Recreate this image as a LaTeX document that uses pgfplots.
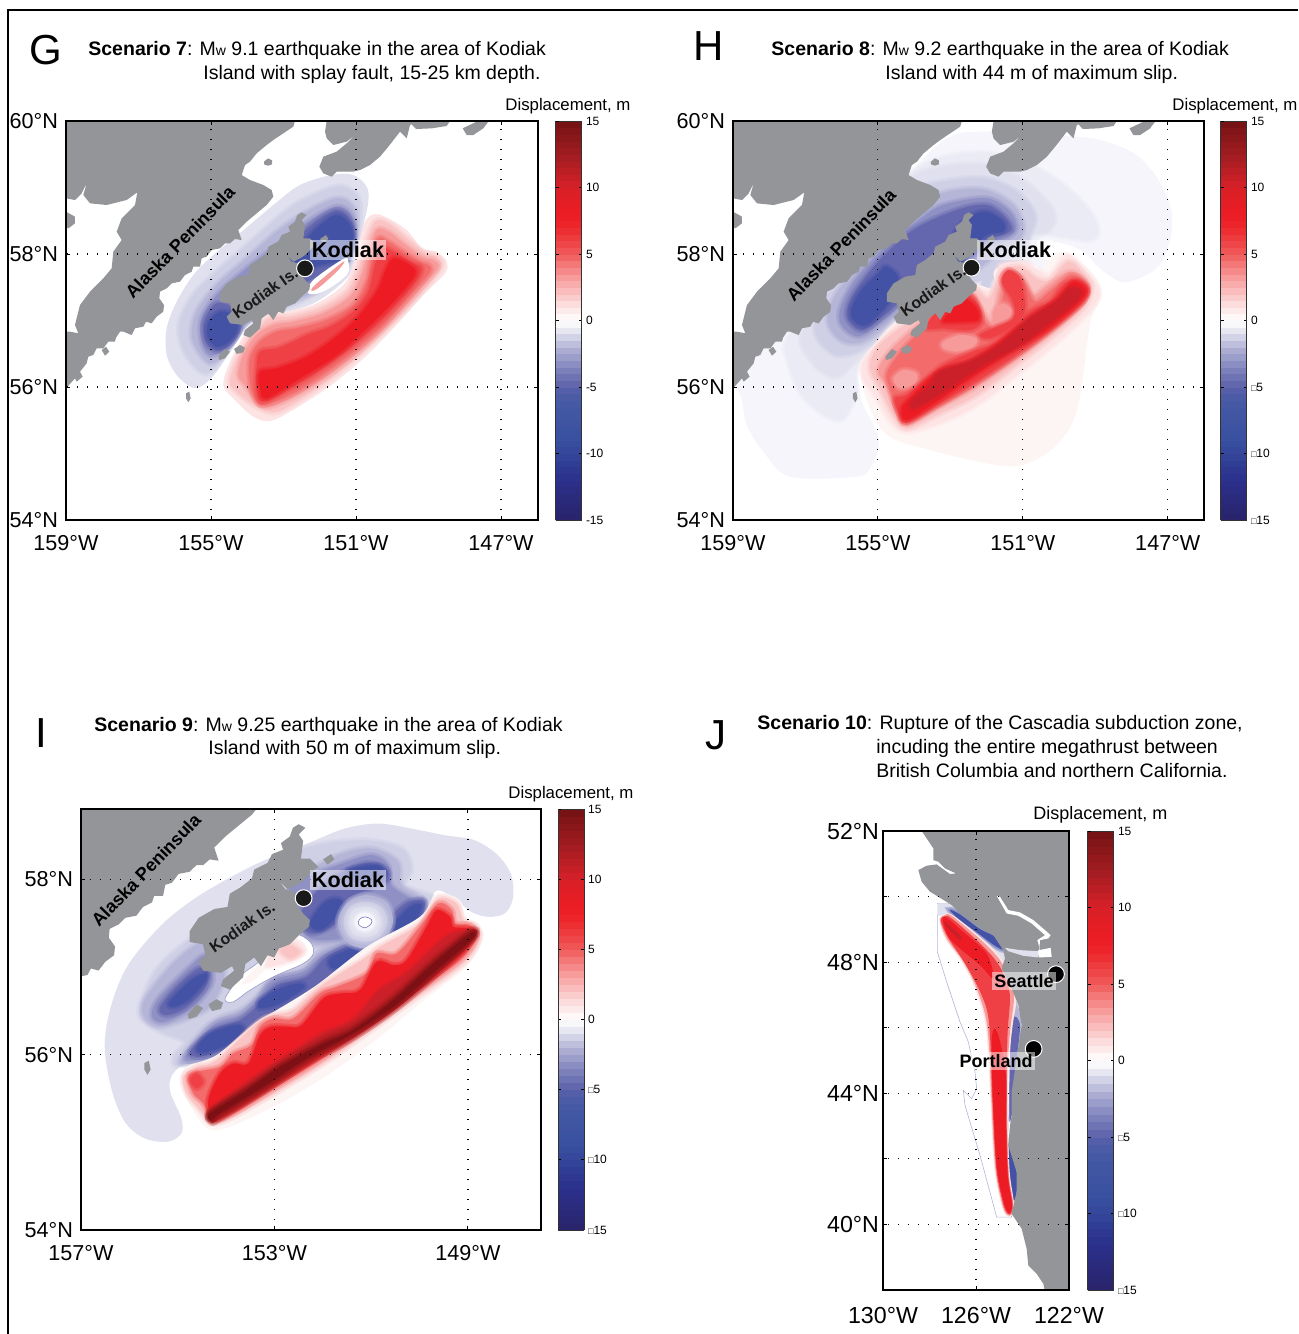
\documentclass[border=0pt]{standalone}
\usepackage{pgfplots}
\pgfplotsset{compat=1.18}
\usepackage{fontspec}
\setmainfont{Liberation Sans}
\definecolor{land}{HTML}{939598}
\definecolor{b05}{HTML}{F5F5FB}\definecolor{b07}{HTML}{EBEBF5}\definecolor{b1}{HTML}{E0E0EF}
\definecolor{b2}{HTML}{CFCFE6}\definecolor{b3}{HTML}{B5B5D8}\definecolor{b4}{HTML}{8F90C4}
\definecolor{b5}{HTML}{6467AE}\definecolor{b6}{HTML}{4452A5}
\definecolor{r05}{HTML}{FDF5F4}\definecolor{r1}{HTML}{FDE3E3}\definecolor{r2}{HTML}{FBC4C4}
\definecolor{r3}{HTML}{F79A9A}\definecolor{r4}{HTML}{F36B6B}\definecolor{r5}{HTML}{EF4045}
\definecolor{r6}{HTML}{ED1C24}\definecolor{r7}{HTML}{CB2029}\definecolor{r8}{HTML}{B01C20}\definecolor{r9}{HTML}{7D1014}
% soft contour: two translucent strokes under the fill blur the band edge
\newcommand\poly[2]{%
\addplot[draw=#1,opacity=.3,line width=3.2pt,smooth cycle,tension=0.55] coordinates {#2};
\addplot[draw=#1,opacity=.35,line width=1.6pt,smooth cycle,tension=0.55] coordinates {#2};
\addplot[fill=#1,draw=none,smooth cycle,tension=0.55] coordinates {#2};}
\newcommand\hpoly[2]{\addplot[fill=#1,draw=none,smooth cycle,tension=0.55] coordinates {#2};}
\newcommand\lnd[2][land]{\addplot[gframe,fill=#1,draw=none] coordinates {#2} -- cycle;}
\pgfplotsset{
 colormap={disp}{rgb255(0)=(41,35,105) rgb255(3)=(43,48,140) rgb255(6)=(56,80,160) rgb255(9)=(70,90,165)
  rgb255(10)=(90,95,170) rgb255(11.5)=(130,135,190) rgb255(13)=(180,180,215) rgb255(14)=(222,222,238)
  rgb255(14.8)=(250,250,252) rgb255(15)=(255,255,255) rgb255(16)=(253,228,228) rgb255(17.5)=(250,180,180)
  rgb255(19)=(245,130,130) rgb255(20)=(240,90,90) rgb255(22)=(237,40,45) rgb255(23)=(237,28,36)
  rgb255(25)=(215,32,40) rgb255(27)=(170,30,35) rgb255(30)=(115,18,20)},
 gframe/.style={x filter/.expression={159-(60+x/3-66)/36.25},y filter/.expression={60-(115+y/3-121)/66.5}},
 hframe/.style={x filter/.expression={159-(730+x/3-733)/36.25},y filter/.expression={60-(115+y/3-121)/66.5}},
 iframe/.style={x filter/.expression={157-(78+x/3-81)/48.375},y filter/.expression={58-(805+y/3-879)/87.75}},
 jframe/.style={x filter/.expression={130-(880+x/3-883)/23.25},y filter/.expression={52-(825+y/3-831)/32.75}},
 mapaxis/.style={scale only axis,axis on top,x dir=reverse,anchor=south west,grid=major,
  grid style={black,line width=.55pt,dash pattern=on .7pt off 4.3pt},
  tick align=inside,major tick length=2pt,tick style={black,line width=.5pt},
  axis line style={line width=.8pt,black},
  xticklabel style={font=\fontsize{10.8}{12}\selectfont,yshift=-4pt},
  yticklabel style={font=\fontsize{10.8}{12}\selectfont,xshift=-.5pt},
  point meta min=-15,point meta max=15,colormap name=disp,
  colorbar sampled,colorbar style={samples=61}},
 cbar/.style={colorbar style={at={(#1,1)},anchor=north west,width=13pt,
  ytick={-15,-10,-5,0,5,10,15},major tick length=1.5pt,tick align=inside,
  yticklabel pos=right,axis line style={line width=.5pt,black!80},
  yticklabel style={font=\fontsize{6}{7}\selectfont,xshift=-1.5pt}}},
 negplain/.style={colorbar style={yticklabels={-15,-10,-5,0,5,10,15}}},
 negbox/.style={colorbar style={yticklabels={{\fontsize{4.5}{5}\selectfont □}15,{\fontsize{4.5}{5}\selectfont □}10,{\fontsize{4.5}{5}\selectfont □}5,0,5,10,15}}},
}
% Land shared by the three Kodiak panels
\newcommand\alaska{%
\lnd{(18,18)(705,18)(700,35)(670,55)(640,75)(620,90)(590,115)(570,140)(555,150)(545,180)(570,195)(610,210)(635,225)(640,245)(620,270)(590,295)(560,320)(535,345)(545,375)(525,372)(510,385)(495,385)(480,400)(455,405)(440,425)(425,430)(420,455)(400,455)(395,470)(375,480)(360,500)(335,505)(320,520)(300,530)(298,550)(312,570)(310,590)(290,605)(275,625)(258,620)(250,635)(225,640)(215,660)(190,650)(180,650)(168,668)(165,680)(145,680)(130,700)(110,700)(100,720)(85,725)(80,745)(60,770)(68,785)(50,800)(45,790)(18,820)(18,650)(30,650)(55,655)(45,630)(50,610)(60,570)(90,530)(130,490)(155,460)(160,410)(185,375)(170,350)(185,310)(225,270)(232,232)(200,255)(140,270)(90,265)(70,240)(80,205)(65,235)(45,255)(18,250)}
\lnd{(18,290)(45,305)(45,325)(25,340)(18,335)}
\lnd{(125,705)(138,695)(148,710)(135,722)}
\lnd{(800,18)(1170,18)(1160,33)(1115,40)(1068,42)(1055,28)(1050,30)(1040,70)(1020,50)(985,95)(960,125)(930,150)(900,165)(880,170)(830,170)(815,185)(790,175)(778,155)(790,125)(830,110)(860,85)(885,60)(860,80)(820,90)(800,70)(795,50)}
\lnd{(1220,60)(1208,40)(1250,20)(1285,20)(1270,40)(1240,60)}
\lnd{(612,140)(624,130)(636,136)(636,148)(624,152)(612,148)}
\lnd{(725,292)(712,300)(705,320)(685,335)(690,350)(665,360)(655,380)(625,395)(620,415)(595,435)(570,450)(565,480)(535,485)(500,505)(480,535)(480,560)(510,565)(515,590)(500,605)(510,625)(550,630)(575,615)(580,625)(555,645)(550,660)(570,668)(600,640)(605,610)(625,595)(640,615)(655,590)(670,595)(680,575)(705,565)(730,540)(748,525)(750,510)(735,495)(720,475)(715,445)(695,440)(680,420)(700,440)(720,430)(735,420)(760,395)(770,390)(750,370)(730,370)(735,330)(725,315)(740,300)}
\lnd{(780,372)(798,360)(805,372)(790,384)}
\lnd{(522,702)(540,690)(555,698)(550,712)(530,717)}
\lnd{(475,725)(495,702)(510,710)(495,730)(478,735)}
\lnd{(378,835)(388,830)(392,850)(385,862)(378,850)}
}
\begin{document}
\begin{tikzpicture}
\useasboundingbox (0,0) rectangle (649pt,-667pt);
\draw[line width=.8pt,black] (4pt,-667pt) -- (4pt,-5pt) -- (649pt,-5pt);
%%%%%%%%%%%%%% G
\begin{axis}[mapaxis,gframe,cbar=1.038,negplain,at={(33pt,-260pt)},width=236pt,height=199.5pt,
 xmin=145.98,xmax=159,ymin=54,ymax=60,xtick={159,155,151,147},ytick={54,56,58,60},
 xticklabels={159°W,155°W,151°W,147°W},yticklabels={54°N,56°N,58°N,60°N}]
\hpoly{b1}{(815,180)(880,180)(920,215)(925,260)(910,330)(885,430)(860,490)(770,560)(680,590)(620,590)(555,640)(520,690)(470,770)(430,810)(395,817)(350,780)(320,720)(320,640)(350,560)(400,480)(460,420)(545,350)(640,270)(720,210)}
\poly{b2}{(830,215)(885,235)(900,280)(890,380)(870,440)(800,510)(720,560)(640,590)(560,630)(520,680)(480,740)(440,775)(400,750)(365,690)(360,620)(400,540)(470,470)(550,400)(640,320)(720,260)}
\poly{b3}{(830,250)(875,270)(890,320)(880,400)(850,470)(790,520)(720,550)(630,590)(560,620)(520,680)(490,720)(450,745)(415,710)(395,660)(410,590)(470,510)(560,430)(650,350)(740,290)}
\poly{b4}{(830,275)(870,295)(885,350)(870,420)(830,470)(760,510)(700,540)(640,585)(560,620)(525,670)(490,705)(450,720)(425,680)(425,610)(470,540)(560,460)(680,370)(760,310)}
\poly{b5}{(830,285)(872,315)(882,380)(855,445)(790,475)(720,505)(690,470)(690,400)(760,325)}
\poly{b5}{(470,565)(530,585)(540,640)(510,690)(470,708)(436,680)(432,620)}
\poly{b6}{(830,300)(870,330)(878,380)(855,430)(780,450)(720,470)(690,470)(700,420)(770,340)}
\poly{b6}{(480,590)(530,605)(530,650)(500,685)(470,695)(445,670)(445,625)}
\hpoly{white}{(745,535)(760,495)(850,432)(865,440)(860,480)(790,530)}
\hpoly{r3}{(755,528)(765,510)(850,440)(835,465)(780,515)}
\hpoly{r1}{(940,298)(975,305)(1040,345)(1085,400)(1130,410)(1160,440)(1155,475)(1090,540)(1000,640)(900,740)(800,820)(690,890)(630,918)(580,905)(520,850)(490,810)(510,740)(560,650)(620,600)(680,590)(770,565)(850,510)(880,450)(900,370)(915,320)}
\poly{r2}{(945,320)(985,325)(1040,370)(1090,410)(1130,425)(1145,450)(1120,490)(1040,580)(950,670)(850,760)(740,840)(650,890)(590,875)(530,830)(510,800)(530,735)(575,660)(630,610)(690,605)(780,580)(860,530)(895,460)(915,390)}
\poly{r3}{(950,345)(985,350)(1030,385)(1085,425)(1120,435)(1135,455)(1100,500)(1010,600)(920,690)(820,770)(720,835)(630,875)(590,860)(555,810)(535,780)(550,720)(590,660)(640,630)(700,620)(790,595)(870,545)(905,480)(925,410)}
\poly{r4}{(955,370)(985,380)(1030,410)(1080,440)(1105,450)(1110,470)(1060,530)(970,630)(880,710)(780,785)(690,840)(610,870)(585,850)(570,800)(570,730)(600,680)(650,650)(710,640)(800,615)(880,570)(920,500)(935,430)}
\poly{r5}{(965,400)(1000,410)(1050,440)(1085,460)(1060,510)(970,610)(880,690)(780,765)(690,820)(610,860)(590,830)(590,760)(600,710)(650,700)(700,680)(740,660)(810,635)(880,590)(925,530)(945,450)}
\poly{r6}{(1000,430)(1050,450)(1065,480)(1000,560)(920,640)(830,720)(720,790)(620,850)(600,820)(600,770)(650,760)(730,730)(810,680)(890,610)(950,530)(975,470)}
\alaska
\addplot[only marks,mark=*,mark size=4.2pt,mark options={fill=black!90,draw=white,line width=.5pt}] coordinates {(735,460)};
\end{axis}
%%%%%%%%%%%%%% H
\begin{axis}[mapaxis,hframe,cbar=1.036,negbox,at={(366.5pt,-260pt)},width=235.5pt,height=199.5pt,
 xmin=146,xmax=159,ymin=54,ymax=60,xtick={159,155,151,147},ytick={54,56,58,60},
 xticklabels={159°W,155°W,151°W,147°W},yticklabels={54°N,56°N,58°N,60°N}]
\hpoly{b05}{(530,180)(650,70)(760,50)(1040,65)(1130,80)(1220,120)(1290,200)(1325,290)(1320,380)(1280,460)(1200,500)(1160,495)(1110,460)(1060,410)(1000,385)(950,380)(920,380)(950,450)(930,465)(915,450)(850,450)(790,490)(780,525)(755,520)(740,500)(500,610)(440,670)(395,720)(385,800)(400,870)(440,950)(445,1000)(420,1060)(380,1085)(180,1085)(100,1010)(50,930)(35,850)(20,800)(100,700)(200,600)(400,300)}
\poly{b07}{(540,175)(650,125)(780,115)(900,150)(1000,210)(1080,290)(1105,350)(1080,375)(1000,365)(930,360)(905,420)(880,450)(790,490)(780,525)(755,520)(740,500)(500,610)(440,670)(395,730)(375,780)(380,820)(360,880)(330,915)(270,890)(210,830)(175,740)(170,680)(250,550)(400,300)}
\poly{b1}{(540,195)(650,155)(760,150)(870,190)(950,260)(975,310)(950,350)(900,360)(880,420)(790,490)(780,525)(755,520)(740,500)(500,610)(440,680)(385,730)(320,785)(265,760)(220,700)(215,660)(270,570)(400,400)}
\poly{b2}{(560,225)(640,200)(760,190)(860,230)(915,300)(900,360)(880,420)(790,490)(780,525)(750,520)(740,500)(500,610)(440,670)(380,710)(320,720)(270,680)(255,630)(290,540)(400,420)(500,320)}
\poly{b3}{(600,250)(680,225)(770,225)(850,270)(880,330)(870,370)(820,400)(760,450)(700,490)(560,520)(480,620)(400,680)(340,680)(300,640)(295,590)(330,520)(420,420)(520,320)}
\poly{b4}{(640,270)(770,250)(840,290)(860,340)(830,370)(770,390)(700,450)(600,490)(480,600)(400,660)(360,655)(330,620)(335,570)(380,490)(480,380)(560,320)}
\poly{b5}{(680,285)(770,270)(825,305)(845,345)(800,365)(730,395)(680,445)(560,515)(470,595)(400,645)(362,625)(350,590)(375,530)(450,435)(550,345)}
\poly{b6}{(720,305)(770,290)(820,320)(820,350)(770,360)(715,415)(690,445)(645,420)(680,345)}
\poly{b6}{(470,455)(505,490)(475,565)(410,630)(370,615)(365,580)(395,525)(445,475)}
\hpoly{r05}{(950,430)(1000,410)(1050,440)(1100,490)(1115,540)(1085,610)(1070,700)(1055,820)(1030,920)(970,1000)(880,1050)(800,1050)(700,1030)(580,1000)(510,980)(460,950)(420,880)(395,800)(395,740)(440,680)(500,620)(600,560)(700,500)(790,520)(800,460)(930,465)}
\poly{r1}{(1010,420)(1060,460)(1100,510)(1105,550)(1060,610)(960,700)(860,780)(740,870)(640,920)(540,950)(490,930)(440,850)(400,790)(400,740)(445,685)(505,625)(610,570)(720,510)(770,530)(800,500)(810,450)(880,440)(930,470)(960,480)}
\poly{r2}{(1015,440)(1060,475)(1085,515)(1060,580)(960,670)(860,750)(740,840)(620,900)(530,940)(490,900)(450,820)(420,760)(440,700)(510,640)(620,580)(720,520)(770,550)(790,530)(815,470)(870,455)(920,490)(960,495)}
\poly{r3}{(1020,470)(1070,505)(1060,560)(960,650)(860,730)(740,815)(620,880)(530,925)(500,890)(470,810)(445,770)(470,720)(530,660)(610,600)(720,540)(760,590)(790,620)(815,510)(870,480)(910,540)(950,515)}
\poly{r4}{(1025,480)(1070,510)(1060,560)(960,650)(850,730)(730,810)(620,875)(530,925)(505,890)(480,820)(470,780)(490,740)(540,680)(610,620)(720,540)(750,600)(800,640)(835,480)(880,500)(915,560)(960,530)}
\poly{r3}{(640,680)(690,660)(740,670)(730,695)(680,710)(640,700)}
\poly{r3}{(490,790)(520,765)(560,775)(555,805)(510,820)}
\poly{r3}{(790,590)(820,565)(850,590)(830,620)(795,625)}
\poly{r5}{(1040,495)(1075,520)(1055,565)(960,645)(850,725)(730,805)(620,870)(530,920)(505,890)(495,850)(530,840)(590,790)(640,750)(730,710)(800,680)(900,590)(960,560)(1000,510)}
\poly{r5}{(700,530)(745,570)(755,620)(720,645)(640,640)(590,640)(610,600)(660,560)}
\poly{r5}{(815,500)(835,465)(870,490)(885,560)(880,600)(840,640)(780,670)(750,660)(790,640)(850,610)(850,560)}
\poly{r6}{(1030,500)(1070,525)(1045,565)(950,645)(850,705)(720,790)(620,860)(530,915)(515,880)(540,850)(600,790)(650,760)(720,740)(800,690)(900,610)(980,555)}
\poly{r6}{(700,550)(740,580)(745,615)(700,620)(640,620)(660,590)}
\poly{r7}{(1020,520)(1055,530)(1030,565)(950,630)(870,690)(760,750)(640,830)(590,860)(550,880)(545,860)(600,810)(630,770)(720,740)(810,690)(900,610)(980,560)}
\alaska
\addplot[only marks,mark=*,mark size=4.2pt,mark options={fill=black!90,draw=white,line width=.5pt}] coordinates {(725,458)};
\end{axis}
%%%%%%%%%%%%%% I
\begin{axis}[mapaxis,iframe,cbar=1.037,negbox,at={(40.5pt,-615pt)},width=230pt,height=210.5pt,
 xmin=147.49,xmax=157,ymin=54,ymax=58.8,xtick={157,153,149},ytick={54,56,58},
 xticklabels={157°W,153°W,149°W},yticklabels={54°N,56°N,58°N}]
\hpoly{b1}{(700,110)(800,70)(900,55)(1000,70)(1100,90)(1190,105)(1260,150)(1300,210)(1305,280)(1280,325)(1230,335)(1180,320)(1130,280)(1080,255)(1060,280)(1000,390)(900,430)(740,540)(540,650)(420,730)(300,790)(275,850)(310,940)(310,985)(270,1010)(200,1000)(140,950)(100,850)(80,720)(100,600)(150,480)(250,360)(350,280)(460,215)(560,165)}
\poly{b2}{(680,130)(850,105)(970,130)(1000,190)(980,240)(1040,265)(1060,285)(1000,390)(900,430)(740,530)(540,640)(420,720)(300,780)(290,750)(320,710)(250,680)(190,640)(190,590)(240,490)(340,400)(500,300)(600,200)}
\poly{b3}{(400,420)(440,500)(400,600)(330,640)(240,665)(195,630)(205,575)(290,470)(370,410)}
\poly{b3}{(306,765)(396,655)(486,615)(536,575)(586,515)(676,490)(731,435)(836,390)(906,415)(866,465)(736,535)(606,615)(536,655)(416,745)(346,775)}
\poly{b3}{(680,210)(780,150)(880,130)(960,170)(970,240)(1030,280)(1040,340)(990,390)(900,415)(820,410)(720,420)(650,390)(620,300)}
\poly{b4}{(380,450)(400,480)(400,540)(340,610)(260,650)(225,640)(225,610)(250,570)(330,490)}
\poly{b4}{(321,755)(406,660)(486,630)(536,585)(586,525)(676,500)(736,450)(836,405)(886,425)(856,475)(716,545)(606,620)(526,655)(426,745)(356,765)}
\poly{b4}{(640,240)(780,180)(880,150)(930,180)(940,240)(1000,280)(1040,285)(1025,355)(975,395)(920,400)(820,400)(700,400)(650,330)}
\poly{b5}{(360,490)(390,500)(380,550)(320,610)(265,630)(245,610)(290,550)}
\poly{b5}{(336,740)(406,675)(486,645)(546,595)(596,540)(686,515)(746,455)(836,415)(876,430)(846,475)(706,555)(626,605)(526,655)(436,730)(366,755)}
\poly{b5}{(690,290)(760,220)(860,175)(925,190)(930,225)(880,250)(810,280)(790,340)(750,370)(700,385)(660,350)}
\poly{b5}{(925,385)(945,330)(990,290)(1040,290)(1020,350)(965,390)}
\poly{b6}{(275,590)(340,525)(385,505)(380,530)(330,585)(285,605)}
\poly{b6}{(356,730)(396,685)(476,660)(496,675)(446,720)(376,743)}
\poly{b6}{(546,585)(606,550)(666,535)(676,550)(606,595)(546,610)}
\poly{b6}{(756,460)(836,425)(866,435)(836,465)(766,490)}
\poly{b6}{(696,355)(736,295)(776,280)(796,300)(766,345)(726,375)}
\poly{b6}{(810,195)(900,180)(915,215)(830,225)}
\poly{b6}{(941,365)(996,305)(1031,300)(1011,345)(956,383)}
\poly{b3}{(861,270)(925,290)(945,350)(915,410)(861,430)(805,410)(780,350)(805,295)}
\poly{b2}{(861,290)(910,305)(928,350)(905,395)(861,410)(815,395)(797,350)(815,305)}
\poly{b1}{(861,305)(895,315)(910,350)(895,385)(861,395)(825,385)(812,350)(825,315)}
\poly{b05}{(861,322)(882,330)(893,350)(882,370)(861,378)(840,370)(829,350)(840,330)}
\hpoly{white}{(861,335)(880,343)(880,355)(861,368)(842,358)(844,343)}
\addplot[smooth cycle,tension=.55,draw=b5,line width=.25pt] coordinates {(861,335)(880,343)(880,355)(861,368)(842,358)(844,343)};
\hpoly{white}{(441,585)(456,555)(496,505)(546,465)(556,405)(646,385)(696,410)(706,445)(676,475)(586,515)(516,555)(466,590)}
\addplot[smooth cycle,tension=.55,draw=b4,line width=.25pt] coordinates {(441,585)(456,555)(496,505)(546,465)(556,405)(646,385)(696,410)(706,445)(676,475)(586,515)(516,555)(466,590)};
\hpoly{r05}{(491,535)(536,485)(561,475)(586,405)(656,400)(686,430)(666,460)(576,485)(521,530)}
\poly{r1}{(566,475)(596,405)(646,405)(681,435)(656,460)(586,483)}
\poly{r2}{(606,435)(636,420)(666,440)(636,460)}
\hpoly{r05}{(311,805)(336,780)(416,750)(536,650)(596,615)(716,540)(866,425)(1026,335)(1076,265)(1146,285)(1161,335)(1206,360)(1211,405)(1166,485)(1026,595)(906,695)(756,805)(606,895)(456,965)(396,973)(356,935)(321,865)}
\poly{r2}{(316,815)(356,785)(416,765)(536,655)(586,630)(646,615)(726,545)(866,455)(906,425)(1026,355)(1081,280)(1136,295)(1156,345)(1191,360)(1206,400)(1156,475)(1006,585)(866,685)(736,775)(606,855)(466,935)(401,955)(366,915)(326,865)}
\poly{r4}{(331,815)(356,800)(426,785)(466,745)(521,720)(546,665)(586,640)(646,640)(726,565)(776,545)(866,505)(896,445)(956,445)(1026,365)(1081,295)(1121,315)(1131,355)(1176,360)(1196,395)(1146,465)(996,575)(856,675)(726,765)(596,845)(466,925)(406,945)(376,895)(346,865)}
\poly{r5}{(336,825)(356,805)(376,830)(356,850)}
\poly{r6}{(391,885)(426,805)(466,775)(511,775)(546,690)(581,665)(631,665)(671,660)(736,580)(786,565)(846,555)(896,470)(946,480)(986,465)(1046,365)(1076,315)(1116,335)(1126,365)(1171,370)(1186,395)(1136,460)(986,570)(846,670)(716,760)(586,840)(456,920)(406,940)}
\poly{r7}{(396,925)(506,835)(606,765)(656,735)(736,685)(826,645)(906,555)(986,505)(1106,395)(1176,380)(1166,405)(986,565)(846,665)(716,755)(586,835)(456,915)}
\poly{r8}{(396,915)(506,845)(606,775)(736,700)(826,660)(946,570)(1066,460)(1176,375)(1192,395)(1096,490)(956,610)(816,705)(696,770)(566,855)(436,935)(401,952)}
\poly{r9}{(396,925)(506,855)(606,785)(736,715)(826,675)(946,585)(1066,475)(1176,385)(1184,400)(1086,485)(946,605)(806,695)(686,760)(556,845)(426,925)(401,945)}
\alaska
\addplot[only marks,mark=*,mark size=4.2pt,mark options={fill=black!90,draw=white,line width=.5pt}] coordinates {(677,279)};
\end{axis}
%%%%%%%%%%%%%% J
\begin{axis}[mapaxis,jframe,cbar=1.102,negbox,at={(441.5pt,-645pt)},width=93pt,height=229.5pt,
 xmin=122,xmax=130,ymin=38,ymax=52,xtick={130,126,122},ytick={40,42,44,46,48,50,52},
 xticklabel style={font=\fontsize{11.6}{13}\selectfont,yshift=-1pt},
 yticklabel style={font=\fontsize{11.6}{13}\selectfont,xshift=2pt},
 xticklabels={130°W,126°W,122°W},yticklabels={40°N,{},44°N,{},48°N,{},52°N}]
\addplot[fill=white,draw=b3,line width=.3pt] coordinates {(172,235)(205,235)(215,265)(172,270)(172,380)(200,470)(240,590)(265,650)(285,740)(290,790)(275,820)(250,795)(255,840)(300,990)(350,1175)(395,1175)(385,1100)(365,900)(350,700)(340,550)(280,440)(215,290)} -- cycle;
\addplot[fill=b1,draw=none] coordinates {(172,235)(205,235)(215,265)(190,272)(172,270)} -- cycle;
\hpoly{b1}{(205,240)(215,240)(240,262)(300,305)(345,335)(365,372)(430,378)(475,395)(430,395)(385,385)(375,425)(340,370)(290,320)(230,280)(205,265)}
\poly{b6}{(210,255)(240,268)(300,312)(345,335)(375,372)(350,365)(295,325)(240,285)}
\hpoly{b3}{(395,490)(410,530)(425,600)(412,700)(410,800)(400,860)(385,890)(385,960)(412,1040)(412,1100)(400,1130)(385,1065)(385,900)(390,700)(395,560)}
\hpoly{b5}{(398,580)(420,600)(408,720)(405,820)(395,870)(388,880)(390,700)}
\hpoly{b6}{(388,930)(410,1040)(410,1100)(400,1125)(388,1065)}
\hpoly{r1}{(178,285)(190,270)(215,268)(300,335)(360,395)(400,470)(410,520)(398,600)(388,700)(385,850)(385,950)(390,1050)(402,1135)(397,1170)(378,1170)(362,1130)(342,1020)(330,800)(325,700)(315,590)(285,490)(245,410)(195,340)}
\hpoly{r3}{(180,285)(195,270)(215,272)(300,342)(358,402)(392,470)(402,520)(390,620)(382,750)(382,900)(387,1050)(400,1135)(395,1167)(380,1167)(365,1130)(345,1020)(333,800)(328,680)(318,580)(290,490)(250,410)(200,340)}
\hpoly{r5}{(182,285)(195,273)(215,280)(295,350)(350,410)(380,470)(390,520)(383,620)(380,750)(380,900)(385,1050)(398,1135)(393,1164)(382,1164)(368,1130)(348,1020)(336,800)(331,650)(322,560)(296,490)(255,415)(203,335)}
\hpoly{r6}{(188,285)(200,278)(240,312)(320,385)(340,460)(300,420)(240,370)(205,335)}
\hpoly{r6}{(343,610)(358,640)(378,750)(378,900)(383,1050)(396,1135)(391,1160)(383,1160)(370,1125)(350,1020)(338,800)(335,650)}
\hpoly{r7}{(195,290)(240,330)(240,345)(200,305)}
\addplot[fill=land,draw=none] coordinates {(125,18)(570,18)(570,1400)(495,1400)(490,1375)(470,1345)(445,1320)(440,1270)(425,1210)(395,1165)(410,1100)(410,1040)(385,960)(390,900)(395,870)(395,800)(425,600)(415,540)(395,490)(365,430)(375,400)(370,375)(340,330)(300,310)(240,265)(215,240)(175,215)(150,200)(125,170)(115,135)(140,122)(170,118)(210,147)(228,145)(195,130)(175,110)(160,105)(160,70)} -- cycle;
\addplot[fill=white,draw=none] coordinates {(350,212)(360,215)(385,255)(420,262)(460,285)(495,315)(512,330)(505,340)(480,345)(478,375)(512,368)(515,395)(478,397)(470,380)(480,372)(472,345)(495,330)(455,295)(415,272)(380,265)} -- cycle;
\addplot[fill=b1,draw=none] coordinates {(375,368)(420,375)(475,378)(475,397)(430,392)(385,378)} -- cycle;
\addplot[only marks,mark=*,mark size=4.2pt,mark options={fill=black,draw=white,line width=.5pt}] coordinates {(528,447)(461,671)};
\end{axis}
%%%%%%%%%%%%%% text
\begin{scope}[x=.5pt,y=-.5pt]
\newcommand\mw{M{\fontsize{7}{8}\selectfont w}}
\tikzset{t/.style={anchor=west,inner sep=0pt,font=\fontsize{9.75}{11}\selectfont},
 dl/.style={anchor=west,inner sep=0pt,font=\fontsize{8.4}{10}\selectfont},
 let/.style={inner sep=0pt,font=\fontsize{21}{24}\selectfont},
 kod/.style={fill=white,fill opacity=.5,text opacity=1,inner sep=1pt,font=\bfseries\fontsize{10.8}{12}\selectfont},
 ap/.style={inner sep=0pt,font=\bfseries\fontsize{9}{10}\selectfont,rotate=46},
 ki/.style={inner sep=0pt,text=black!90,font=\bfseries\fontsize{8}{10}\selectfont,rotate=35}}
\node[let] at (46,50) {G};
\node[t] at (88,50) {\textbf{Scenario 7}: \mw\ 9.1 earthquake in the area of Kodiak};
\node[t] at (203,74) {Island with splay fault, 15-25 km depth.};
\node[let] at (709,46) {H};
\node[t] at (771,50) {\textbf{Scenario 8}: \mw\ 9.2 earthquake in the area of Kodiak};
\node[t] at (885,74) {Island with 44 m of maximum slip.};
\node[let] at (41,733) {I};
\node[t] at (94,726) {\textbf{Scenario 9}: \mw\ 9.25 earthquake in the area of Kodiak};
\node[t] at (208,749) {Island with 50 m of maximum slip.};
\node[let] at (716,735) {J};
\node[t] at (757,724) {\textbf{Scenario 10}: Rupture of the Cascadia subduction zone,};
\node[t] at (876,748) {incuding the entire megathrust between};
\node[t] at (876,771) {British Columbia and northern California.};
\node[dl] at (505,106) {Displacement, m};
\node[dl] at (1172,106) {Displacement, m};
\node[dl] at (508,794) {Displacement, m};
\node[dl,font=\fontsize{9}{10}\selectfont] at (1033,815) {Displacement, m};
\node[kod] at (348,250) {Kodiak};
\node[kod] at (1015,250) {Kodiak};
\node[kod] at (348,880) {Kodiak};
\node[kod,font=\bfseries\fontsize{9}{10}\selectfont] at (1024,981) {Seattle};
\node[kod,font=\bfseries\fontsize{9}{10}\selectfont] at (996,1061) {Portland};
\node[ap] at (180,242) {Alaska Peninsula};
\node[ap] at (841,245) {Alaska Peninsula};
\node[ap] at (146,870) {Alaska Peninsula};
\node[ki] at (265,293) {Kodiak Is.};
\node[ki] at (933,291) {Kodiak Is.};
\node[ki] at (242,927) {Kodiak Is.};
\end{scope}
\end{tikzpicture}
\end{document}
